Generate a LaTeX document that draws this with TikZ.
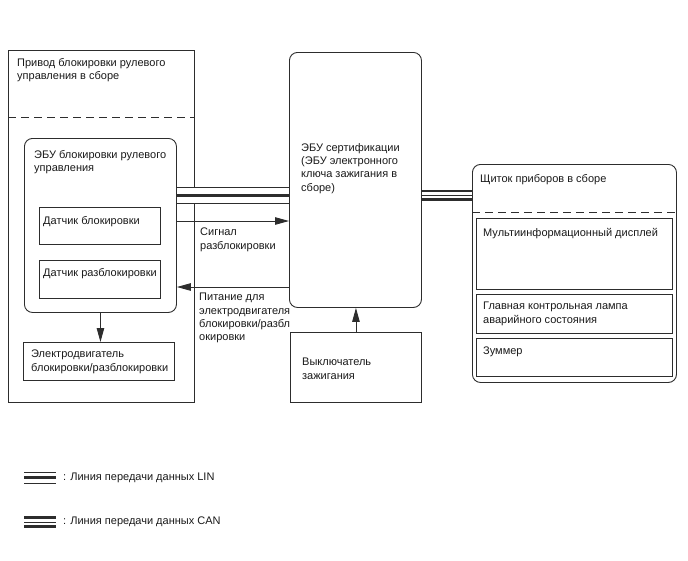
\documentclass[tikz,border=0pt]{standalone}
\usepackage{fontspec}
\setmainfont{Liberation Sans}
\usetikzlibrary{arrows.meta,positioning,calc}

\begin{document}
\begin{tikzpicture}[x=1pt,y=-1pt,
    >={Triangle[length=14pt,width=7.5pt]}, font=\fontsize{11}{13.3}\selectfont,
    frame/.style={draw=lineclr,line width=0.9pt,inner sep=0pt,anchor=north west},
    roundframe/.style={frame,rounded corners=8pt},
    txt/.style={anchor=north west,inner sep=0pt,align=left,text=black!90},
    sepline/.style={draw=lineclr,line width=0.9pt,dash pattern=on 8pt off 5pt},
    sigarrow/.style={->,draw=lineclr,line width=0.9pt},
    linbus/.style={draw=lineclr,line width=3pt,preaction={draw=lineclr,line width=1pt,double=white,double distance=#1}},
    linbus/.default=15pt,
    canbus/.style={draw=lineclr,line width=1pt,preaction={draw=lineclr,line width=2.6pt,double=white,double distance=#1}},
    canbus/.default=6pt,
]

\definecolor{lineclr}{RGB}{45,45,45}

\useasboundingbox (0,0) rectangle (688,560);

% ---------- Steering lock actuator assembly (left) ----------
\node[frame,minimum width=186pt,minimum height=352pt] (actuator) at (8,50) {};
\node[txt] (actuatorT) at (17,58) {Привод блокировки рулевого\\управления в сборе};
\coordinate (actSep) at (0,117);
\draw[sepline] (actuator.west |- actSep) -- (actuator.east |- actSep);

\node[roundframe,minimum width=152pt,minimum height=174pt] (lockecu) at (24,138) {};
\node[txt] (lockecuT) at (34,150) {ЭБУ блокировки рулевого\\управления};

\node[frame,minimum width=121pt,minimum height=37pt] (locksens) at (39,207) {};
\node[txt] (locksensT) at (43,216) {Датчик блокировки};
\node[frame,minimum width=121pt,minimum height=38pt] (unlocksens) at (39,260) {};
\node[txt] (unlocksensT) at (43,268) {Датчик разблокировки};

\node[frame,minimum width=151pt,minimum height=38pt] (motor) at (23,342) {};
\node[txt] (motorT) at (31,350) {Электродвигатель\\блокировки/разблокировки};
\draw[sigarrow] (lockecu.south) -- (lockecu.south |- motor.north);

% ---------- Certification ECU + ignition switch (middle) ----------
\node[roundframe,minimum width=132pt,minimum height=255pt] (certecu) at (289,52) {};
\node[txt] (certecuT) at (301,143) {ЭБУ сертификации\\(ЭБУ электронного\\ключа зажигания в\\сборе)};

\node[frame,minimum width=131pt,minimum height=70pt] (ignsw) at (290,332) {};
\node[txt] (ignswT) at (302,358) {Выключатель\\зажигания};
\draw[sigarrow] (ignsw.north) -- (ignsw.north |- certecu.south);

% ---------- Combination meter (right) ----------
\node[roundframe,minimum width=204pt,minimum height=218pt] (meter) at (472,164) {};
\node[txt] (meterT) at (480,174) {Щиток приборов в сборе};
\coordinate (meterSep) at (0,212);
\draw[sepline] (meter.west |- meterSep) -- (meter.east |- meterSep);

\node[frame,minimum width=196pt,minimum height=71pt] (mid) at (476,218) {};
\node[txt] (midT) at (483,228) {Мультиинформационный дисплей};
\node[frame,minimum width=196pt,minimum height=39pt] (mwarn) at (476,294) {};
\node[txt] (mwarnT) at (483,302) {Главная контрольная лампа\\аварийного состояния};
\node[frame,minimum width=196pt,minimum height=38pt] (buzzer) at (476,338) {};
\node[txt] (buzzerT) at (483,347) {Зуммер};

% ---------- Connections ----------
\coordinate (linY) at (0,195.5);
\coordinate (sigY) at (0,221);
\coordinate (pwrY) at (0,287);
\coordinate (canY) at (0,195.3);

\draw[linbus] (lockecu.east |- linY) -- (certecu.west |- linY);
\draw[sigarrow] (lockecu.east |- sigY) -- (certecu.west |- sigY);
\node[txt] (sigT) at (200,228) {Сигнал\\разблокировки};
\draw[sigarrow] (certecu.west |- pwrY) -- (lockecu.east |- pwrY);
\node[txt] (pwrT) at (199,293) {Питание для\\электродвигателя\\блокировки/разбл\\окировки};
\draw[canbus] (certecu.east |- canY) -- (meter.west |- canY);

% ---------- Legend ----------
\coordinate (linkeyA) at (24,477.5);
\coordinate (linkeyB) at (56,477.5);
\coordinate (cankeyA) at (24,522);
\coordinate (cankeyB) at (56,522);
\draw[linbus=10pt] (linkeyA) -- (linkeyB);
\node[txt] (linkeyT) at (63,473) {: Линия передачи данных LIN};
\draw[canbus] (cankeyA) -- (cankeyB);
\node[txt] (cankeyT) at (63,517) {: Линия передачи данных CAN};

\end{tikzpicture}
\end{document}
